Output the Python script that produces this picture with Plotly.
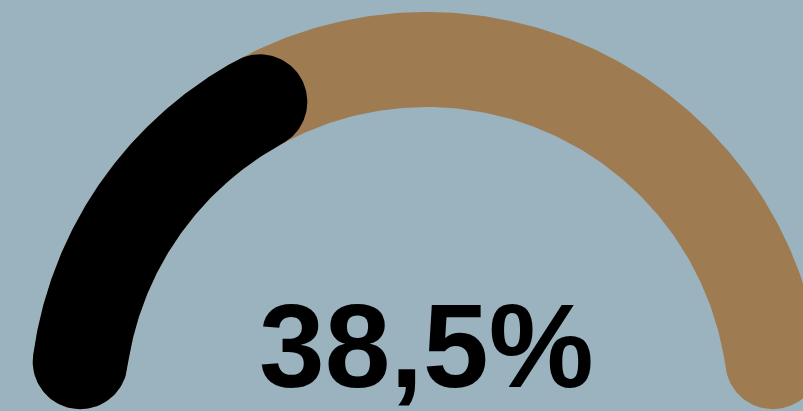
import numpy as np
import plotly.graph_objects as go

# ---- data ----
values = [38.5]          # gauge value in percent
max_value = [100]
labels = ["38,5%"]

# ---- style / geometry (pixel-like units) ----
W, H = 803, 411
CX, CY = 426.5, 411 - 409     # gauge centre (data units, y up)
R = 349.5                      # centre-line radius
THICK = 95                     # band thickness
BG = "#9AB3BF"
TRACK = "#9E7B51"
BAR = "#000000"


def arc_shape(f0, f1, n=200):
    """Closed polygon of a rounded-end arc covering fraction f0..f1 of a half circle."""
    hw = THICK / 2
    delta = hw / R                                  # angular inset for round caps
    a0 = np.pi - f0 * np.pi - delta
    a1 = np.pi - f1 * np.pi + delta
    t = np.linspace(a0, a1, n)
    ro, ri = R + hw, R - hw
    xs, ys = [], []
    xs += list(CX + ro * np.cos(t)); ys += list(CY + ro * np.sin(t))
    ex, ey = CX + R * np.cos(a1), CY + R * np.sin(a1)
    c = np.linspace(a1, a1 - np.pi, 60)
    xs += list(ex + hw * np.cos(c)); ys += list(ey + hw * np.sin(c))
    xs += list(CX + ri * np.cos(t[::-1])); ys += list(CY + ri * np.sin(t[::-1]))
    sx, sy = CX + R * np.cos(a0), CY + R * np.sin(a0)
    c = np.linspace(a0 + np.pi, a0, 60)
    xs += list(sx + hw * np.cos(c)); ys += list(sy + hw * np.sin(c))
    return xs, ys


fig = go.Figure()
tx, ty = arc_shape(0, 1)
fig.add_trace(go.Scatter(x=tx, y=ty, fill="toself", fillcolor=TRACK,
                         line=dict(width=0, color=TRACK), mode="lines",
                         hoverinfo="skip", showlegend=False))
vx, vy = arc_shape(0, values[0] / max_value[0])
fig.add_trace(go.Scatter(x=vx, y=vy, fill="toself", fillcolor=BAR,
                         line=dict(width=0, color=BAR), mode="lines",
                         hoverinfo="skip", showlegend=False))

fig.add_annotation(x=CX, y=411 - 346, text=f"<b>{labels[0]}</b>", showarrow=False,
                   xanchor="center", yanchor="middle",
                   font=dict(family="Liberation Sans, Arial, sans-serif", size=118, color="#000000"))

fig.update_layout(
    width=W, height=H,
    margin=dict(l=0, r=0, t=0, b=0),
    paper_bgcolor=BG, plot_bgcolor=BG,
    xaxis=dict(range=[0, W], visible=False, fixedrange=True),
    yaxis=dict(range=[0, H], visible=False, fixedrange=True),
    showlegend=False,
)

fig.write_html("out.html", config={"displayModeBar": False})

# remove the default page margin so the figure fills the window
with open("out.html", encoding="utf-8") as fh:
    html = fh.read()
html = html.replace("<head>", f"<head><style>html,body{{margin:0;padding:0;background:{BG};overflow:hidden}}</style>", 1)
with open("out.html", "w", encoding="utf-8") as fh:
    fh.write(html)
